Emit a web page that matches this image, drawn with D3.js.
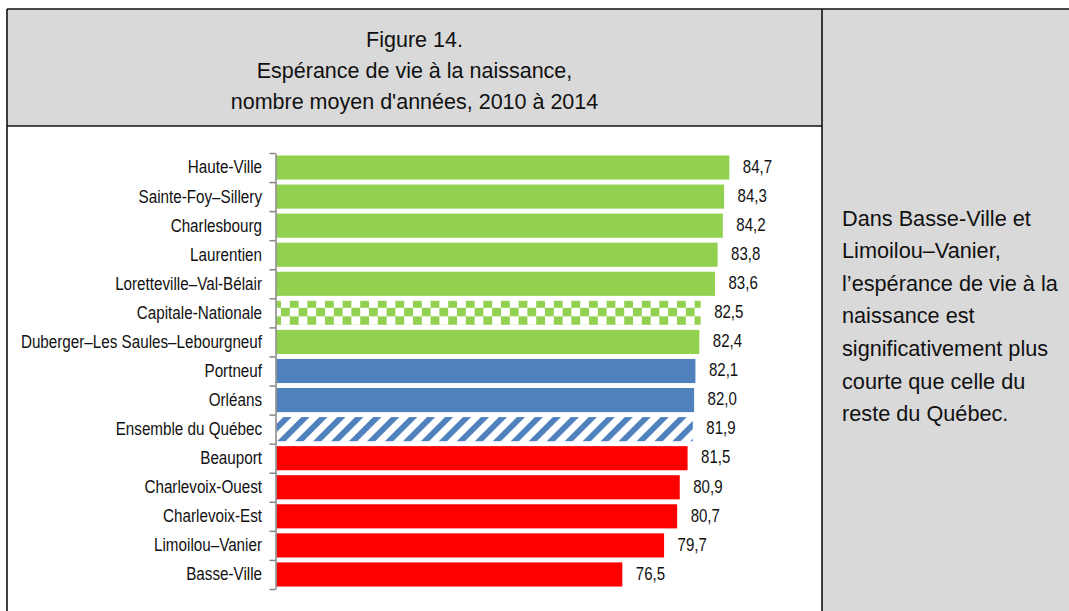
<!DOCTYPE html>
<html>
<head>
<meta charset="utf-8">
<script src="https://cdnjs.cloudflare.com/ajax/libs/d3/7.8.5/d3.min.js"></script>
<style>
    body { margin: 0; background: #fff; }
    text { font-family: "Liberation Sans", Arial, sans-serif; }
</style>
</head>
<body>
<script>
// Define SVG area dimensions
var svgWidth = 1069;
var svgHeight = 611;

// Data
var regions = ["Haute-Ville", "Sainte-Foy\u2013Sillery", "Charlesbourg", "Laurentien",
    "Loretteville\u2013Val-Bélair", "Capitale-Nationale", "Duberger\u2013Les Saules\u2013Lebourgneuf",
    "Portneuf", "Orléans", "Ensemble du Québec", "Beauport", "Charlevoix-Ouest",
    "Charlevoix-Est", "Limoilou\u2013Vanier", "Basse-Ville"];
var lifeExp = [84.7, 84.3, 84.2, 83.8, 83.6, 82.5, 82.4, 82.1, 82.0, 81.9, 81.5, 80.9, 80.7, 79.7, 76.5];
// comparison with the rest of Québec
var significance = ["plus", "plus", "plus", "plus", "plus", "region", "plus", "egal", "egal",
    "quebec", "moins", "moins", "moins", "moins", "moins"];
var titleLines = ["Figure 14.", "Espérance de vie à la naissance,", "nombre moyen d'années, 2010 à 2014"];
var noteLines = ["Dans Basse-Ville et", "Limoilou\u2013Vanier,", "l\u2019espérance de vie à la",
    "naissance est", "significativement plus", "courte que celle du", "reste du Québec."];

var data = regions.map(function(r, i) {
    return { region: r, value: lifeExp[i], sig: significance[i] };
});

var green = "#92d050", blue = "#4f81bd", red = "#ff0000", grey = "#d9d9d9";

// layout of the frame
var frame = { left: 7, top: 9, split: 822, headerBottom: 126 };

var svg = d3.select("body").append("svg")
    .attr("width", svgWidth)
    .attr("height", svgHeight);

// Scales
var xScale = d3.scaleLinear()
    .domain([50, 90])
    .range([276.5, 798.5]);

var yScale = d3.scaleBand()
    .domain(regions)
    .range([153, 589])
    .paddingInner(0.17)
    .paddingOuter(0.085);

// patterns
var defs = svg.append("defs");
var capY = yScale("Capitale-Nationale");
var checker = defs.append("pattern")
    .attr("id", "checker")
    .attr("patternUnits", "userSpaceOnUse")
    .attr("x", xScale(50) + 4.5)
    .attr("y", capY + 7)
    .attr("width", 17.6)
    .attr("height", 17);
checker.append("rect").attr("width", 17.6).attr("height", 17).attr("fill", "#fff");
checker.append("rect").attr("width", 8.8).attr("height", 8.5).attr("fill", green);
checker.append("rect").attr("x", 8.8).attr("y", 8.5).attr("width", 8.8).attr("height", 8.5).attr("fill", green);

var stripes = defs.append("pattern")
    .attr("id", "stripes")
    .attr("patternUnits", "userSpaceOnUse")
    .attr("width", 12.7)
    .attr("height", 12.7)
    .attr("patternTransform", "rotate(45)");
stripes.append("rect").attr("width", 12.7).attr("height", 12.7).attr("fill", "#fff");
stripes.append("rect").attr("width", 5.8).attr("height", 12.7).attr("fill", blue);

var fills = { plus: green, region: "url(#checker)", egal: blue, quebec: "url(#stripes)", moins: red };

// frame: header, side panel
svg.append("rect")
    .attr("x", frame.left).attr("y", frame.top)
    .attr("width", frame.split - frame.left)
    .attr("height", frame.headerBottom - frame.top)
    .attr("fill", grey);
svg.append("rect")
    .attr("x", frame.split).attr("y", frame.top)
    .attr("width", svgWidth - frame.split)
    .attr("height", svgHeight - frame.top)
    .attr("fill", grey);

var frameLines = [
    [frame.left, frame.top, svgWidth, frame.top],
    [frame.left, frame.top, frame.left, svgHeight],
    [frame.left, frame.headerBottom, frame.split, frame.headerBottom],
    [frame.split, frame.top, frame.split, svgHeight]
];
svg.selectAll(".frame-line")
    .data(frameLines)
    .enter()
    .append("line")
    .attr("class", "frame-line")
    .attr("x1", d => d[0]).attr("y1", d => d[1])
    .attr("x2", d => d[2]).attr("y2", d => d[3])
    .attr("stroke", "#111")
    .attr("stroke-width", 1.6);

// title
svg.append("text")
    .attr("x", (frame.left + frame.split) / 2)
    .attr("y", 47)
    .attr("text-anchor", "middle")
    .style("font-size", "21.5px")
    .style("fill", "#111")
    .selectAll("tspan")
    .data(titleLines)
    .enter()
    .append("tspan")
    .attr("x", (frame.left + frame.split) / 2)
    .attr("dy", (d, i) => i === 0 ? 0 : 31)
    .text(d => d);

// side note
svg.append("text")
    .attr("x", 842)
    .attr("y", 225.5)
    .style("font-size", "21.7px")
    .style("fill", "#111")
    .selectAll("tspan")
    .data(noteLines)
    .enter()
    .append("tspan")
    .attr("x", 842)
    .attr("dy", (d, i) => i === 0 ? 0 : 32.6)
    .text(d => d);

// bars
svg.selectAll(".bar")
    .data(data)
    .enter()
    .append("rect")
    .attr("class", "bar")
    .attr("x", xScale(50))
    .attr("y", d => yScale(d.region))
    .attr("width", d => xScale(d.value) - xScale(50))
    .attr("height", yScale.bandwidth())
    .attr("fill", d => fills[d.sig]);

// value labels
var fmt = d3.format(".1f");
svg.selectAll(".value-label")
    .data(data)
    .enter()
    .append("text")
    .attr("class", "value-label")
    .attr("transform", d => "translate(" + (xScale(d.value) + 13.5) + "," +
        (yScale(d.region) + yScale.bandwidth() / 2) + ") scale(0.86,1)")
    .attr("dy", "0.3em")
    .style("font-size", "17.5px")
    .style("fill", "#111")
    .text(d => fmt(d.value).replace(".", ","));

// axis with ticks between categories
var boundary = d3.scaleLinear()
    .domain([0, regions.length])
    .range(yScale.range());

var tickAxis = svg.append("g")
    .attr("transform", "translate(" + 275.5 + ",0)")
    .call(d3.axisLeft(boundary)
        .tickValues(d3.range(regions.length + 1))
        .tickSize(6)
        .tickSizeOuter(0)
        .tickFormat(""));
tickAxis.selectAll("path, line")
    .attr("stroke", "#868686")
    .attr("stroke-width", 1.5);

// category labels
var labelAxis = svg.append("g")
    .attr("transform", "translate(" + 275.5 + ",0)")
    .call(d3.axisLeft(yScale).tickSize(0).tickSizeOuter(0));
labelAxis.select(".domain").remove();
labelAxis.selectAll("text")
    .attr("x", 0)
    .attr("dy", "0.34em")
    .attr("transform", "translate(-13.5,0) scale(0.87,1)")
    .style("font-family", "'Liberation Sans', Arial, sans-serif")
    .style("font-size", "17.5px")
    .style("fill", "#111");
</script>
</body>
</html>
